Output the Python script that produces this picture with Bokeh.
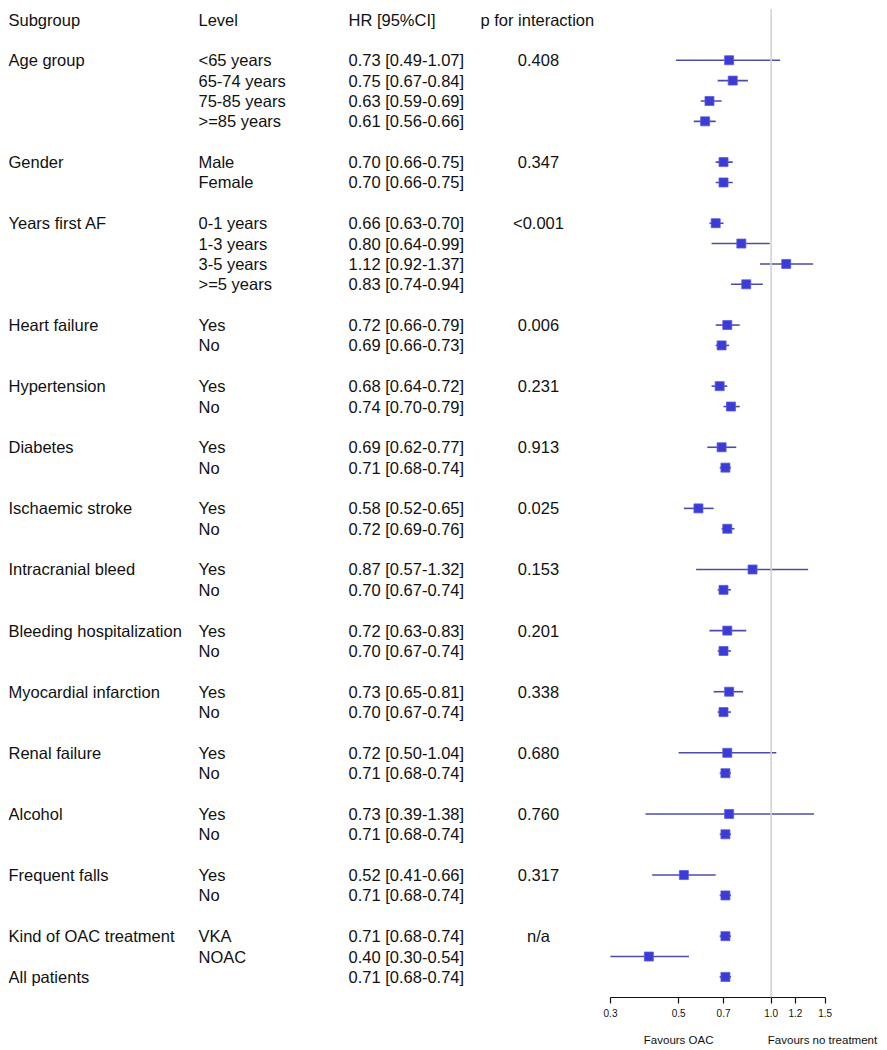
import math
from bokeh.plotting import figure
from bokeh.models import (Range1d, LogScale, LogAxis, FixedTicker, Span,
                          ColumnDataSource, NumeralTickFormatter)
from bokeh.core.properties import value
from bokeh.embed import file_html
from bokeh.resources import INLINE

# ---------------- data ----------------
header_labels = ["Subgroup", "Level", "HR [95%CI]", "p for interaction"]

subgroups = ["Age group", "Gender", "Years first AF", "Heart failure",
             "Hypertension", "Diabetes", "Ischaemic stroke", "Intracranial bleed",
             "Bleeding hospitalization", "Myocardial infarction", "Renal failure",
             "Alcohol", "Frequent falls", "Kind of OAC treatment"]

levels = [["<65 years", "65-74 years", "75-85 years", ">=85 years"],
          ["Male", "Female"],
          ["0-1 years", "1-3 years", "3-5 years", ">=5 years"],
          ["Yes", "No"], ["Yes", "No"], ["Yes", "No"], ["Yes", "No"],
          ["Yes", "No"], ["Yes", "No"], ["Yes", "No"], ["Yes", "No"],
          ["Yes", "No"], ["Yes", "No"], ["VKA", "NOAC"]]

hr = [0.73, 0.75, 0.63, 0.61,
      0.70, 0.70,
      0.66, 0.80, 1.12, 0.83,
      0.72, 0.69, 0.68, 0.74, 0.69, 0.71, 0.58, 0.72, 0.87, 0.70,
      0.72, 0.70, 0.73, 0.70, 0.72, 0.71, 0.73, 0.71, 0.52, 0.71,
      0.71, 0.40]
ci_low = [0.49, 0.67, 0.59, 0.56,
          0.66, 0.66,
          0.63, 0.64, 0.92, 0.74,
          0.66, 0.66, 0.64, 0.70, 0.62, 0.68, 0.52, 0.69, 0.57, 0.67,
          0.63, 0.67, 0.65, 0.67, 0.50, 0.68, 0.39, 0.68, 0.41, 0.68,
          0.68, 0.30]
ci_high = [1.07, 0.84, 0.69, 0.66,
           0.75, 0.75,
           0.70, 0.99, 1.37, 0.94,
           0.79, 0.73, 0.72, 0.79, 0.77, 0.74, 0.65, 0.76, 1.32, 0.74,
           0.83, 0.74, 0.81, 0.74, 1.04, 0.74, 1.38, 0.74, 0.66, 0.74,
           0.74, 0.54]

p_interaction = ["0.408", "0.347", "<0.001", "0.006", "0.231", "0.913", "0.025",
                 "0.153", "0.201", "0.338", "0.680", "0.760", "0.317", "n/a"]

overall_label = "All patients"
overall_hr = 0.71
overall_low = 0.68
overall_high = 0.74

tick_values = [0.3, 0.5, 0.7, 1.0, 1.2, 1.5]
favours_labels = {0.5: "Favours OAC", 1.47: "Favours no treatment"}
null_value = 1.0

# ---------------- layout constants ----------------
FRAME_W, FRAME_H = 871, 989
ROW_PX = 20.37          # pixels per table row
ROW0_PX = 11            # frame-y of header row centre
X_SUB, X_LEV, X_HR, X_PHEAD, X_PVAL = 0, 190, 340, 472, 530
PX_LO, PX_HI = 602.0, 816.7   # frame-x of the 0.3 and 1.5 ticks
FONT = "Liberation Sans"
FS = "16.5px"

# ---------------- rows ----------------
sub_y, sub_t = [], []
lev_y, lev_t, p_y, p_t = [], [], [], []
row = 2
for gi, g in enumerate(subgroups):
    sub_y.append(row); sub_t.append(g)
    p_y.append(row); p_t.append(p_interaction[gi])
    for li, lev in enumerate(levels[gi]):
        lev_y.append(row + li); lev_t.append(lev)
    row += len(levels[gi]) + (1 if gi < len(subgroups) - 1 else 0)
overall_row = row
sub_y.append(overall_row); sub_t.append(overall_label)

all_hr = hr + [overall_hr]
all_lo = ci_low + [overall_low]
all_hi = ci_high + [overall_high]
all_y = lev_y + [overall_row]
hr_text = [f"{h:.2f} [{l:.2f}-{u:.2f}]" for h, l, u in zip(all_hr, all_lo, all_hi)]

# ---------------- figure ----------------
y_range = Range1d(start=(FRAME_H - ROW0_PX) / ROW_PX, end=-ROW0_PX / ROW_PX)
kpx = (PX_HI - PX_LO) / math.log(tick_values[-1] / tick_values[0])
log_start = math.exp(math.log(tick_values[0]) - PX_LO / kpx)
log_end = math.exp(math.log(tick_values[-1]) + (FRAME_W - PX_HI) / kpx)

p = figure(frame_width=FRAME_W, frame_height=FRAME_H,
           x_range=Range1d(0, FRAME_W), y_range=y_range,
           x_axis_type=None, y_axis_type=None,
           output_backend="svg", toolbar_location=None,
           min_border=0, min_border_left=8, min_border_right=0,
           min_border_top=8, min_border_bottom=0,
           outline_line_color=None, background_fill_color="white")
p.xgrid.visible = False
p.ygrid.visible = False
p.extra_x_ranges = {"log": Range1d(log_start, log_end)}
p.extra_x_scales = {"log": LogScale()}

# reference line at HR = 1
p.add_layout(Span(location=null_value, dimension="height", x_range_name="log",
                  line_color="#d4d4d4", line_width=1.6))

def txt(xs, ys, ts, align="left"):
    src = ColumnDataSource(dict(x=xs, y=ys, t=ts))
    p.text(x="x", y="y", text="t", source=src, text_font=value(FONT),
           text_font_size=FS, text_baseline="middle", text_align=align,
           text_color="#111111")

hx = [X_SUB, X_LEV, X_HR, X_PHEAD]
txt(hx, [0] * 4, header_labels)
txt([X_SUB] * len(sub_y), sub_y, sub_t)
txt([X_LEV] * len(lev_y), lev_y, lev_t)
txt([X_HR] * len(all_y), all_y, hr_text)
txt([X_PVAL] * len(p_y), p_y, p_t, align="center")

# forest marks
fsrc = ColumnDataSource(dict(y=all_y, hr=all_hr, lo=all_lo, hi=all_hi))
p.segment(x0="lo", x1="hi", y0="y", y1="y", source=fsrc, x_range_name="log",
          line_color="#4c4ca6", line_width=1.6)
p.scatter(x="hr", y="y", source=fsrc, x_range_name="log", marker="square",
          size=9, fill_color="#3b3bd6", line_color="#5a5ae0", line_width=0.8)

# axes
ax = LogAxis(x_range_name="log", ticker=FixedTicker(ticks=tick_values),
             bounds=(tick_values[0], tick_values[-1]),
             formatter=NumeralTickFormatter(format="0.0"),
             minor_tick_line_color=None, major_tick_in=0, major_tick_out=6,
             major_label_standoff=5, major_label_text_font=FONT,
             major_label_text_font_size="10px", major_label_text_color="#111111",
             axis_line_color="#111111", axis_line_width=1.2,
             major_tick_line_color="#111111", major_tick_line_width=1.2)
p.add_layout(ax, "below")

ax2 = LogAxis(x_range_name="log", ticker=FixedTicker(ticks=list(favours_labels.keys())),
              major_label_overrides=favours_labels,
              axis_line_color=None, major_tick_line_color=None,
              minor_tick_line_color=None, major_tick_in=0, major_tick_out=0,
              major_label_standoff=14, major_label_text_font=FONT,
              major_label_text_font_size="11.5px", major_label_text_color="#111111")
p.add_layout(ax2, "below")

open("out.html", "w").write(file_html(p, INLINE))
